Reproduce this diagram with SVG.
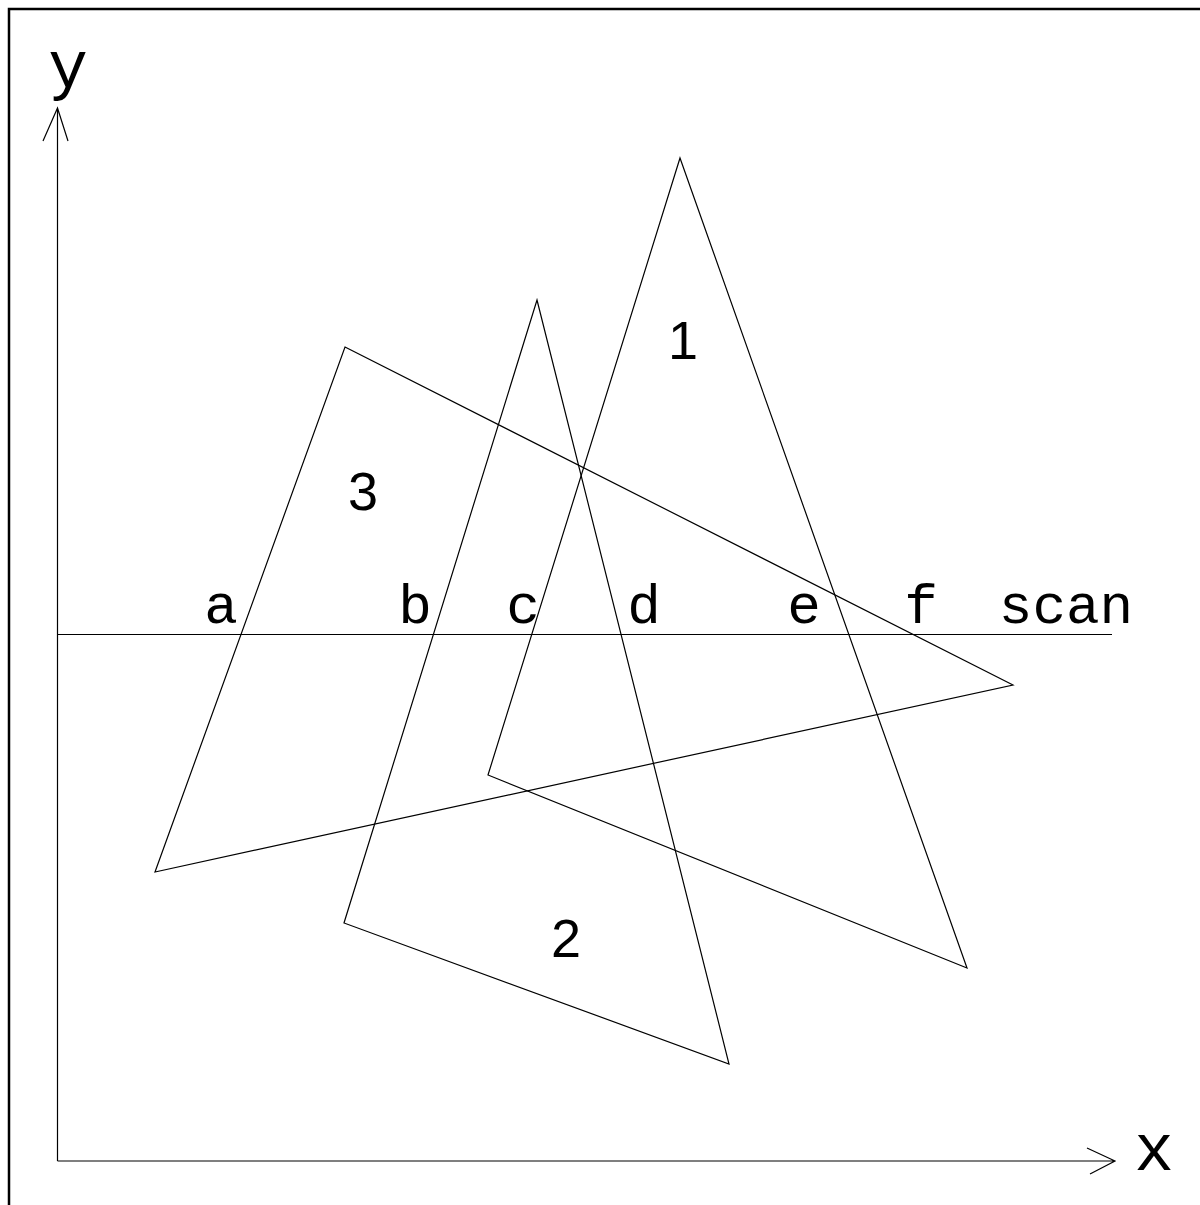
<svg xmlns="http://www.w3.org/2000/svg" width="1200" height="1205" viewBox="0 0 1200 1205">
<style>
.ln{fill:none;stroke:#000;stroke-width:1.2}
.mono{font-family:"Liberation Mono","Courier New",monospace;fill:#000}
.sans{font-family:"Liberation Sans",Arial,sans-serif;fill:#000;font-size:54px;text-anchor:middle}
.lbl{font-size:56px;text-anchor:middle}
</style>
<rect width="1200" height="1205" fill="#fff"/>
<path d="M9,1205 V9 H1200" fill="none" stroke="#000" stroke-width="2.5"/>
<g id="connectors">
<path id="y-axis" class="ln" d="M57.5,1161 V108 M43,141 L57.5,108 L68,141"/>
<path id="x-axis" class="ln" d="M57.5,1161 H1115 M1087,1148 L1115,1161 L1090,1174"/>
<path id="scan-line" class="ln" d="M57.5,634.5 H1112"/>
</g>
<g id="triangle1"><polygon class="ln" points="680,158 967,968 488,775"/><text class="sans" x="683" y="359">1</text></g>
<g id="triangle2"><polygon class="ln" points="537,300 729,1064 344,923"/><text class="sans" x="566" y="957">2</text></g>
<g id="triangle3"><polygon class="ln" points="345,347 1013,685 155,872"/><text class="sans" x="363" y="510">3</text></g>
<g id="labels">
<text class="mono" x="68" y="87" font-size="66" text-anchor="middle">y</text>
<text class="mono" x="1154" y="1170" font-size="66" text-anchor="middle">x</text>
<text class="mono lbl" x="221" y="623">a</text>
<text class="mono lbl" x="415" y="623">b</text>
<text class="mono lbl" x="523" y="623">c</text>
<text class="mono lbl" x="644" y="623">d</text>
<text class="mono lbl" x="804" y="623">e</text>
<text class="mono lbl" x="921" y="623">f</text>
<text class="mono lbl" x="1066" y="623">scan</text>
</g>
</svg>
